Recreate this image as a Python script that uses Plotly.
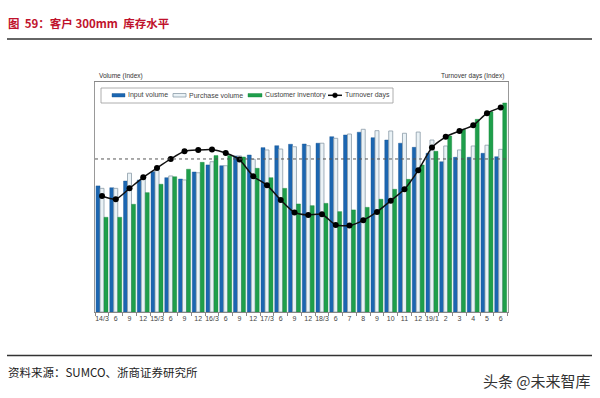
import plotly.graph_objects as go

# ---------------- data (index units, dotted reference level = 100) ----------------
periods = ["2014/3", "2014/6", "2014/9", "2014/12",
           "2015/3", "2015/6", "2015/9", "2015/12",
           "2016/3", "2016/6", "2016/9", "2016/12",
           "2017/3", "2017/6", "2017/9", "2017/12",
           "2018/3", "2018/6", "2018/7", "2018/8", "2018/9", "2018/10", "2018/11", "2018/12",
           "2019/1", "2019/2", "2019/3", "2019/4", "2019/5", "2019/6"]
tick_labels = ["14/3", "6", "9", "12", "15/3", "6", "9", "12", "16/3", "6", "9", "12",
               "17/3", "6", "9", "12", "18/3", "6", "7", "8", "9", "10", "11", "12",
               "19/1", "2", "3", "4", "5", "6"]

input_volume = [82.4, 81.2, 85.6, 86.3, 91.7, 87.8, 86.9, 91.5, 96.1, 95.6,
                102.0, 102.6, 107.4, 108.7, 109.6, 109.8, 110.3, 114.6, 115.7, 117.5,
                113.9, 112.4, 110.3, 107.6, 103.7, 98.2, 101.1, 101.1, 103.7, 101.5]
purchase_volume = [80.8, 80.8, 90.7, 88.0, 92.4, 88.9, 86.3, 91.0, 98.2, 95.6,
                   102.0, 99.8, 105.9, 106.5, 108.0, 108.7, 110.3, 113.5, 116.3, 119.4,
                   118.5, 118.3, 116.8, 117.6, 112.4, 108.5, 105.9, 108.5, 109.0, 106.3]
customer_inventory = [61.9, 61.9, 70.4, 78.0, 83.5, 88.4, 93.3, 97.8, 102.2, 102.3,
                      101.3, 93.9, 87.8, 80.8, 70.6, 69.5, 71.0, 65.6, 66.7, 68.4,
                      73.7, 80.2, 86.7, 96.1, 105.0, 115.0, 119.3, 125.9, 130.9, 136.6]
turnover_days = [75.8, 73.7, 80.8, 88.0, 94.1, 100.0, 105.0, 105.9, 106.2, 103.9,
                 99.6, 88.7, 82.9, 73.2, 65.0, 63.4, 63.9, 56.9, 56.5, 59.9,
                 65.4, 72.7, 80.2, 92.6, 107.5, 114.5, 118.3, 122.0, 129.9, 133.7]
reference_level = 100
y_max = 150.3

# ---------------- styling ----------------
BLUE = "#1b66b1"
WHITE_FILL = "#eaf2f6"
WHITE_LINE = "#8c9ca8"
GREEN = "#1f9f4b"
FONT = "Liberation Sans, Arial, sans-serif"
CJK = "Noto Sans CJK SC, sans-serif"

W, H = 600, 398
L, R, T, B = 95, 92, 82, 86
PW, PH = W - L - R, H - T - B


def px(x):
    return (x - L) / PW


def py(y):
    return (H - B - y) / PH


fig = go.Figure()
fig.add_bar(x=periods, y=input_volume, name="Input volume",
            marker=dict(color=BLUE, line=dict(color="#15528f", width=0.4)))
fig.add_bar(x=periods, y=purchase_volume, name="Purchase volume",
            marker=dict(color=WHITE_FILL, line=dict(color=WHITE_LINE, width=0.8)))
fig.add_bar(x=periods, y=customer_inventory, name="Customer inventory",
            marker=dict(color=GREEN, line=dict(color="#17863d", width=0.4)))
fig.add_scatter(x=periods, y=turnover_days, name="Turnover days", yaxis="y2",
                mode="lines+markers",
                line=dict(color="#111111", width=1.5, shape="spline", smoothing=0.6),
                marker=dict(color="#000000", size=6))

shapes = [
    # reference dotted level
    dict(type="line", xref="paper", x0=0, x1=1, yref="y", y0=reference_level, y1=reference_level,
         line=dict(color="#555555", width=1, dash="dot"), layer="above"),
    # title underline and footer line
    dict(type="line", xref="paper", yref="paper", x0=px(7), x1=px(592), y0=py(39), y1=py(39),
         line=dict(color="#333333", width=1.5)),
    dict(type="line", xref="paper", yref="paper", x0=px(7), x1=px(592), y0=py(355.5), y1=py(355.5),
         line=dict(color="#333333", width=1.5)),
    # legend box
    dict(type="rect", xref="paper", yref="paper", x0=px(101), x1=px(393), y0=py(88), y1=py(103),
         line=dict(color="#9a9a9a", width=0.8), fillcolor="white"),
    dict(type="rect", xref="paper", yref="paper", x0=px(112), x1=px(125), y0=py(93.5), y1=py(97),
         line=dict(color="#15528f", width=0.4), fillcolor=BLUE),
    dict(type="rect", xref="paper", yref="paper", x0=px(173), x1=px(186), y0=py(93.5), y1=py(97),
         line=dict(color=WHITE_LINE, width=0.8), fillcolor=WHITE_FILL),
    dict(type="rect", xref="paper", yref="paper", x0=px(248), x1=px(262), y0=py(93.5), y1=py(97),
         line=dict(color="#17863d", width=0.4), fillcolor=GREEN),
    dict(type="line", xref="paper", yref="paper", x0=px(328), x1=px(342), y0=py(95.3), y1=py(95.3),
         line=dict(color="#111111", width=1.5)),
    dict(type="circle", xref="paper", yref="paper", x0=px(332.6), x1=px(337.4), y0=py(92.9), y1=py(97.7),
         line=dict(color="#000000", width=0.5), fillcolor="#000000"),
]

legend_texts = [(126, "Input volume"), (187, "Purchase volume"),
                (263, "Customer inventory"), (343, "Turnover days")]
annotations = []
for xpos, txt in legend_texts:
    annotations.append(dict(text=txt, x=px(xpos), y=py(95.3), xref="paper", yref="paper",
                            xanchor="left", yanchor="middle", showarrow=False,
                            font=dict(family=FONT, size=7, color="#444444")))

annotations += [
    dict(text="Volume (Index)", x=px(97), y=py(75.5), xref="paper", yref="paper",
         xanchor="left", yanchor="middle", showarrow=False,
         font=dict(family=FONT, size=6.5, color="#333333")),
    dict(text="Turnover days (Index)", x=px(506), y=py(75.5), xref="paper", yref="paper",
         xanchor="right", yanchor="middle", showarrow=False,
         font=dict(family=FONT, size=6.5, color="#333333")),
    dict(text="<b>图  59：客户 300mm  库存水平</b>", x=px(6), y=py(23), xref="paper", yref="paper",
         xanchor="left", yanchor="middle", showarrow=False,
         font=dict(family=CJK, size=11.5, color="#c0122c")),
    dict(text="资料来源：SUMCO、浙商证券研究所", x=px(6), y=py(372), xref="paper", yref="paper",
         xanchor="left", yanchor="middle", showarrow=False,
         font=dict(family=CJK, size=11.5, color="#222222")),
    dict(text="头条 @未来智库", x=px(593), y=py(380), xref="paper", yref="paper",
         xanchor="right", yanchor="middle", showarrow=False,
         font=dict(family=CJK, size=15, color="#333333")),
]

fig.update_layout(
    width=W, height=H, autosize=False,
    margin=dict(l=L, r=R, t=T, b=B, pad=0),
    paper_bgcolor="white", plot_bgcolor="white",
    showlegend=False,
    barmode="group", bargap=0.13, bargroupgap=0,
    xaxis=dict(type="category", range=[-0.51, 29.53],
               tickmode="array", tickvals=periods, ticktext=tick_labels,
               tickangle=0, ticks="outside", tickson="boundaries", ticklen=3,
               tickcolor="#888888", tickwidth=1,
               showline=True, linecolor="#888888", linewidth=1, mirror=True,
               showgrid=False, zeroline=False,
               tickfont=dict(family=FONT, size=7, color="#444444")),
    yaxis=dict(range=[0, y_max], showticklabels=False, ticks="", showgrid=False,
               zeroline=False, showline=True, linecolor="#999999", linewidth=1, mirror=True),
    yaxis2=dict(range=[0, y_max], overlaying="y", side="right", showticklabels=False,
                ticks="", showgrid=False, zeroline=False, showline=False),
    shapes=shapes,
    annotations=annotations,
)

fig.write_html("out.html",
               config={"displayModeBar": False},
               post_script="document.body.style.margin='0px';document.body.style.padding='0px';")
